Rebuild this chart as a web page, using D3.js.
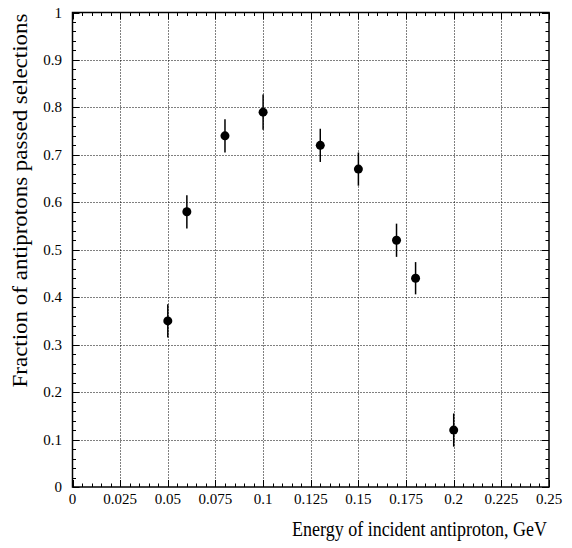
<!DOCTYPE html>
<html><head><meta charset="utf-8">
<script src="https://cdn.jsdelivr.net/npm/d3@7/dist/d3.min.js"></script>
<style>body{margin:0;background:#fff}svg{display:block}</style>
</head><body>
<svg id="c" width="572" height="548"></svg>
<script>
const energies = [0.05, 0.06, 0.08, 0.10, 0.13, 0.15, 0.17, 0.18, 0.20];
const fractions = [0.35, 0.58, 0.74, 0.79, 0.72, 0.67, 0.52, 0.44, 0.12];
const errors = [0.035, 0.035, 0.035, 0.037, 0.035, 0.035, 0.035, 0.034, 0.035];
const xTicks = [0, 0.025, 0.05, 0.075, 0.1, 0.125, 0.15, 0.175, 0.2, 0.225, 0.25];
const yTicks = [0, 0.1, 0.2, 0.3, 0.4, 0.5, 0.6, 0.7, 0.8, 0.9, 1];
const xTitle = "Energy of incident antiproton, GeV";
const yTitle = "Fraction of antiprotons passed selections";

const L = 72.5, R = 549, T = 12.5, B = 487;
const svg = d3.select("#c");
const x = d3.scaleLinear().domain([0, 0.25]).range([L, R]);
const y = d3.scaleLinear().domain([0, 1]).range([B, T]);
const font = "'Liberation Serif','Times New Roman',serif";

// grid
const g = svg.append("g");
g.selectAll(".gx").data(xTicks.slice(1, -1)).join("line")
  .attr("x1", d => Math.round(x(d)) + 0.5).attr("x2", d => Math.round(x(d)) + 0.5)
  .attr("y1", T).attr("y2", B)
  .attr("stroke", "#000").attr("stroke-width", 1).attr("stroke-dasharray", "1,2");
g.selectAll(".gy").data(yTicks.slice(1, -1)).join("line")
  .attr("y1", d => Math.round(y(d)) + 0.5).attr("y2", d => Math.round(y(d)) + 0.5)
  .attr("x1", L).attr("x2", R)
  .attr("stroke", "#000").attr("stroke-width", 1).attr("stroke-dasharray", "1,2");

// minor/major ticks, inside on all sides
const xMinor = d3.range(0, 51).map(i => i * 0.005);
const yMinor = d3.range(0, 51).map(i => i * 0.02);
function isMajorX(v){ return Math.abs(v/0.025 - Math.round(v/0.025)) < 1e-6; }
function isMajorY(v){ return Math.abs(v/0.1 - Math.round(v/0.1)) < 1e-6; }
const tk = svg.append("g").attr("stroke", "#000").attr("stroke-width", 1);
xMinor.forEach(v => {
  const len = isMajorX(v) ? 7 : 3.5;
  const px = Math.round(x(v)) + 0.5;
  tk.append("line").attr("x1", px).attr("x2", px).attr("y1", B).attr("y2", B - len);
  tk.append("line").attr("x1", px).attr("x2", px).attr("y1", T).attr("y2", T + len);
});
yMinor.forEach(v => {
  const len = isMajorY(v) ? 7 : 3.5;
  const py = Math.round(y(v)) + 0.5;
  tk.append("line").attr("y1", py).attr("y2", py).attr("x1", L).attr("x2", L + len);
  tk.append("line").attr("y1", py).attr("y2", py).attr("x1", R).attr("x2", R - len);
});

// frame
svg.append("rect").attr("x", L).attr("y", T).attr("width", R - L).attr("height", B - T)
  .attr("fill", "none").attr("stroke", "#000").attr("stroke-width", 1.5);

// tick labels
svg.append("g").selectAll("text").data(xTicks).join("text")
  .attr("x", d => x(d)).attr("y", B + 16.5)
  .attr("text-anchor", "middle").attr("font-family", font).attr("font-size", 15)
  .text(d => String(+d.toFixed(3)));
svg.append("g").selectAll("text").data(yTicks).join("text")
  .attr("x", L - 10.5).attr("y", d => y(d) + 5)
  .attr("text-anchor", "end").attr("font-family", font).attr("font-size", 15)
  .text(d => String(+d.toFixed(1)));

// titles
svg.append("text").attr("transform", `translate(547,536) scale(0.9,1)`).attr("text-anchor", "end")
  .attr("font-family", font).attr("font-size", 20).text(xTitle);
svg.append("text").attr("transform", `translate(27,200.5) scale(0.91,1) rotate(-90)`)
  .attr("text-anchor", "middle").attr("font-family", font).attr("font-size", 23).text(yTitle);

// error bars and points
const pts = energies.map((e, i) => ({ e, f: fractions[i], s: errors[i] }));
svg.append("g").selectAll("line").data(pts).join("line")
  .attr("x1", d => x(d.e)).attr("x2", d => x(d.e))
  .attr("y1", d => y(d.f + d.s)).attr("y2", d => y(d.f - d.s))
  .attr("stroke", "#000").attr("stroke-width", 1.5);
svg.append("g").selectAll("circle").data(pts).join("circle")
  .attr("cx", d => x(d.e)).attr("cy", d => y(d.f)).attr("r", 4.5).attr("fill", "#000");
</script>
</body></html>
